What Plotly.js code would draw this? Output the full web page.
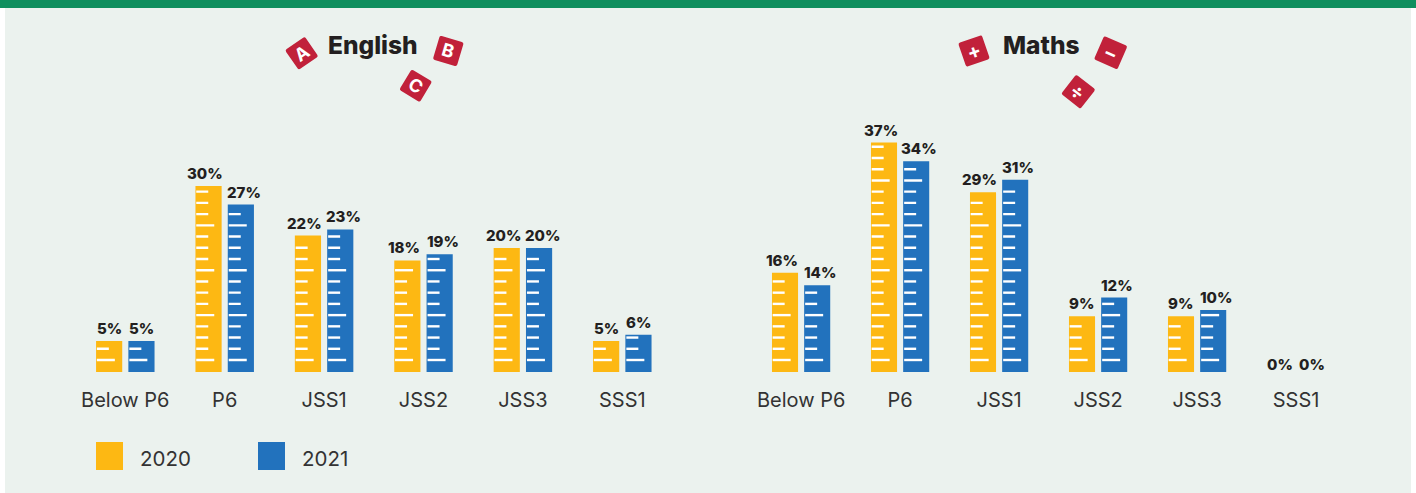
<!DOCTYPE html>
<html><head><meta charset="utf-8">
<script src="https://cdn.plot.ly/plotly-3.0.1.min.js"></script>
<style>html,body{margin:0;padding:0;background:#fff}#c{width:1416px;height:493px}</style></head>
<body><div id="c"></div>
<script>
const categories = ['Below P6','P6','JSS1','JSS2','JSS3','SSS1'];
const english2020 = [5,30,22,18,20,5];
const english2021 = [5,27,23,19,20,6];
const maths2020 = [16,37,29,9,9,0];
const maths2021 = [14,34,31,12,10,0];
const yearNames = ['2020','2021'];
const panelTitles = ['English','Maths'];
const iconGlyphs = ['A','B','C','+','−','÷'];

const W=1416,H=493, YEL='#FDB813', BLU='#2272BD', RED='#C1213A', INK='#231F20', BG='#EBF2EE';
const FONT='Inter, "Open Sans", sans-serif';
const px=x=>x/W, py=y=>1-y/H;
const baseY=372, perPct=6.2, yMax=42;
const idx=categories.map((_,i)=>i);

function ruler(vals, left, unit){
  const xs=[],ys=[];
  vals.forEach((v,i)=>{
    for(let k=0;;k++){
      const y=1.935+k*1.81;
      if(y>v-0.35) break;
      const len=(k%4===0)?18:12;
      const x0=i+(left+0.8)/unit;
      xs.push(x0,x0+len/unit,null); ys.push(y,y,null);
    }
  });
  return {xs,ys};
}
const traces=[], annotations=[], shapes=[];
function panel(a,b,xa,ya,unit){
  traces.push({type:'bar',x:idx,y:a,name:yearNames[0],marker:{color:YEL,line:{width:0}},xaxis:xa,yaxis:ya,hoverinfo:'y'});
  traces.push({type:'bar',x:idx,y:b,name:yearNames[1],marker:{color:BLU,line:{width:0}},xaxis:xa,yaxis:ya,hoverinfo:'y'});
  [[a,-29.25],[b,3.25]].forEach(([v,l])=>{
    const r=ruler(v,l,unit);
    traces.push({type:'scatter',mode:'lines',x:r.xs,y:r.ys,line:{color:'#fff',width:2.4},xaxis:xa,yaxis:ya,hoverinfo:'skip',showlegend:false});
  });
  [[a,-16.25,-1],[b,16.25,1]].forEach(([v,o,s])=>{
    v.forEach((val,i)=>annotations.push({xref:xa,yref:ya,x:i+o/unit,y:val,xanchor:'center',text:val+'%',showarrow:false,yanchor:'bottom',yshift:val===0?-4:1,xshift:val>=10?s*3:0,font:{family:FONT,size:15,weight:800,color:INK}}));
  });
}
panel(english2020,english2021,'x','y',99.4);
panel(maths2020,maths2021,'x2','y2',99);

// background frame
shapes.push({type:'rect',xref:'paper',yref:'paper',x0:px(5),x1:px(1411),y0:0,y1:1,fillcolor:BG,line:{width:0},layer:'below'});
shapes.push({type:'rect',xref:'paper',yref:'paper',x0:0,x1:1,y0:py(8),y1:1,fillcolor:'#0F8F5E',line:{width:0},layer:'below'});

// legend
[[96,YEL,138],[258,BLU,300]].forEach(([x,c,tx],i)=>{
  shapes.push({type:'rect',xref:'paper',yref:'paper',x0:px(x),x1:px(x+27),y0:py(470),y1:py(442),fillcolor:c,line:{width:0}});
  annotations.push({xref:'paper',yref:'paper',x:px(tx),y:py(458),xanchor:'left',yanchor:'middle',showarrow:false,text:yearNames[i],font:{family:FONT,size:20.5,color:'#333'}});
});
// titles
[[373,0],[1041,1]].forEach(([x,i])=>annotations.push({xref:'paper',yref:'paper',x:px(x),y:py(45),xanchor:'center',yanchor:'middle',showarrow:false,text:panelTitles[i],font:{family:FONT,size:24.5,weight:800,color:INK}}));

// icons: centre x, centre y, side, angle
const iconSpots=[[301.7,53.3,24,-34.6],[448.3,51,25,16.5],[415.7,85.7,24,31],[974,51,25,-19],[1110.7,52.7,25.5,23.6],[1078.3,91.7,24.5,38]];
iconSpots.forEach(([cx,cy,s,ang],i)=>{
  const t=ang*Math.PI/180,c=Math.cos(t),n=Math.sin(t),h=s/2,r=2;
  const P=(u,v)=>px(cx+u*c-v*n)+','+py(cy+u*n+v*c);
  const path='M'+P(-h+r,-h)+' L'+P(h-r,-h)+' Q'+P(h,-h)+' '+P(h,-h+r)+' L'+P(h,h-r)+' Q'+P(h,h)+' '+P(h-r,h)+' L'+P(-h+r,h)+' Q'+P(-h,h)+' '+P(-h,h-r)+' L'+P(-h,-h+r)+' Q'+P(-h,-h)+' '+P(-h+r,-h)+' Z';
  shapes.push({type:'path',xref:'paper',yref:'paper',path,fillcolor:RED,line:{width:0}});
  annotations.push({xref:'paper',yref:'paper',x:px(cx),y:py(cy),xanchor:'center',yanchor:'middle',showarrow:false,textangle:ang,text:iconGlyphs[i],font:{family:FONT,size:i<3?18:20,weight:700,color:'#fff'}});
});

const xBase={type:'linear',range:[-0.5,5.5],tickvals:idx,ticktext:categories,showgrid:false,zeroline:false,showline:false,ticks:'',ticklabelstandoff:14,tickfont:{family:FONT,size:20,color:'#333'}};
const yBase={range:[0,yMax],domain:[py(baseY),py(baseY-yMax*perPct)],visible:false,fixedrange:true};
const layout={width:W,height:H,margin:{l:0,r:0,t:0,b:0},paper_bgcolor:'#fff',plot_bgcolor:'rgba(0,0,0,0)',
  barmode:'group',bargap:0.35,bargroupgap:0.19,showlegend:false,
  xaxis:Object.assign({},xBase,{domain:[px(75.6),px(672)],anchor:'y'}),
  xaxis2:Object.assign({},xBase,{domain:[px(751.6),px(1345.6)],anchor:'y2'}),
  yaxis:Object.assign({},yBase,{anchor:'x'}),
  yaxis2:Object.assign({},yBase,{anchor:'x2'}),
  shapes,annotations};
Plotly.newPlot('c',traces,layout,{displayModeBar:false,responsive:false});
</script></body></html>
